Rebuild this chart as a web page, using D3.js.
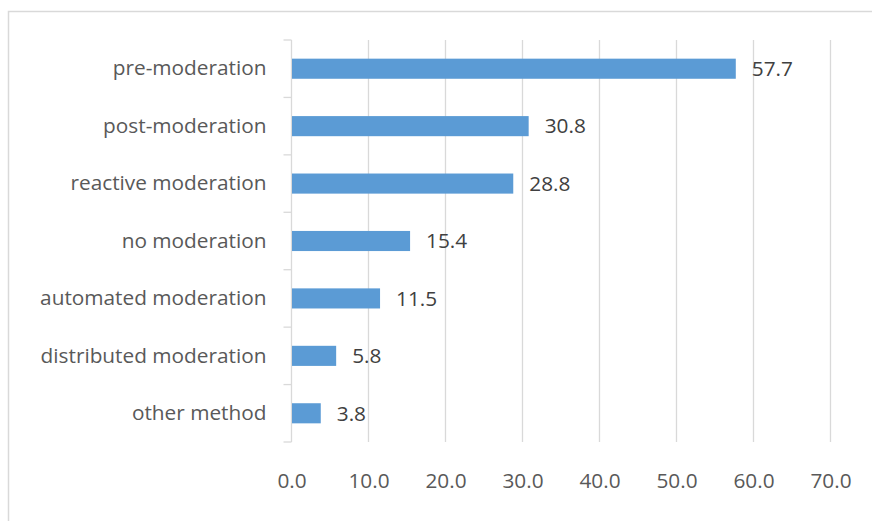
<!DOCTYPE html>
<html>
<head>
<meta charset="utf-8">
<script src="https://cdn.jsdelivr.net/npm/d3@7"></script>
<style>
  html, body { margin: 0; padding: 0; background: #fff; }
  svg { display: block; }
</style>
</head>
<body>
<svg id="chart" width="872" height="521"></svg>
<script>
// Moderation methods and the share (%) using each
const categories = [
  "pre-moderation",
  "post-moderation",
  "reactive moderation",
  "no moderation",
  "automated moderation",
  "distributed moderation",
  "other method"
];
const values = [57.7, 30.8, 28.8, 15.4, 11.5, 5.8, 3.8];
const xTicks = [0, 10, 20, 30, 40, 50, 60, 70];

const svg = d3.select("#chart");
const font = "'Open Sans', sans-serif";
const fontSize = "20.8px";

// Chart frame
svg.append("rect")
  .attr("x", 8.5).attr("y", 11.5)
  .attr("width", 880).attr("height", 530)
  .attr("fill", "#fff")
  .attr("stroke", "#d9d9d9").attr("stroke-width", 1.5);

const plot = { left: 291.5, right: 830.5, top: 40, bottom: 442 };

const x = d3.scaleLinear().domain([0, 70]).range([plot.left, plot.right]);
const y = d3.scaleBand().domain(categories).range([plot.top, plot.bottom]).paddingInner(0.65).paddingOuter(0.325);
const yb = d3.scaleBand().domain(categories).range([plot.top, plot.bottom]);

// Vertical gridlines
svg.append("g")
  .selectAll("line")
  .data(xTicks.slice(1))
  .join("line")
  .attr("x1", d => x(d)).attr("x2", d => x(d))
  .attr("y1", plot.top).attr("y2", plot.bottom)
  .attr("stroke", "#d9d9d9").attr("stroke-width", 1.3);

// Bottom value axis (labels only)
const xAxis = svg.append("g")
  .attr("transform", `translate(0,${plot.bottom})`)
  .call(d3.axisBottom(x).tickValues(xTicks).tickFormat(d3.format(".1f")).tickSize(0).tickPadding(31.5));
xAxis.select(".domain").remove();
xAxis.selectAll("text")
  .attr("fill", "#595959")
  .style("font-family", font).style("font-size", fontSize);

// Category axis with ticks between categories
const yAxis = svg.append("g")
  .attr("transform", `translate(${plot.left},0)`)
  .call(d3.axisLeft(y).tickSize(0).tickPadding(25));
yAxis.select(".domain").attr("stroke", "#d9d9d9").attr("stroke-width", 1.3)
  .attr("d", `M0,${plot.top}V${plot.bottom}`);
yAxis.selectAll("text")
  .attr("fill", "#595959")
  .style("font-family", font).style("font-size", fontSize);
yAxis.append("g")
  .selectAll("line")
  .data(categories.map(c => yb(c)).concat([plot.bottom]))
  .join("line")
  .attr("x1", -8).attr("x2", 0)
  .attr("y1", d => d).attr("y2", d => d)
  .attr("stroke", "#d9d9d9").attr("stroke-width", 1.3);

// Bars
svg.append("g")
  .selectAll("rect")
  .data(values)
  .join("rect")
  .attr("x", x(0) + 0.5)
  .attr("y", (d, i) => y(categories[i]))
  .attr("width", d => x(d) - x(0) - 0.5)
  .attr("height", y.bandwidth())
  .attr("fill", "#5b9bd5");

// Value labels
svg.append("g")
  .selectAll("text")
  .data(values)
  .join("text")
  .attr("x", d => x(d) + 16)
  .attr("y", (d, i) => y(categories[i]) + y.bandwidth() / 2)
  .attr("dy", "0.35em")
  .attr("fill", "#404040")
  .style("font-family", font).style("font-size", fontSize)
  .text(d => d3.format(".1f")(d));
</script>
</body>
</html>
